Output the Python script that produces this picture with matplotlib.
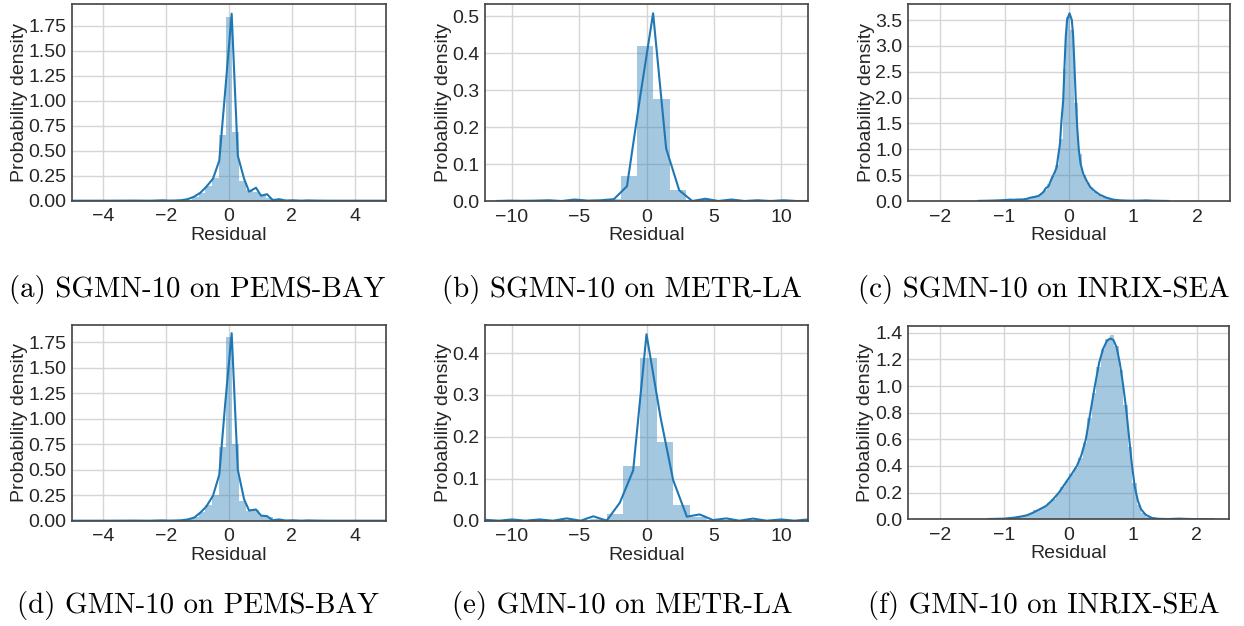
import matplotlib
matplotlib.use("Agg")
import matplotlib.pyplot as plt
from matplotlib.ticker import MultipleLocator, FormatStrFormatter
import numpy as np

# ---------------- data ----------------
# (a) SGMN-10 on PEMS-BAY
hist_a_start, hist_a_width = -1.61, 0.215
hist_a_heights = [0.004, 0.012, 0.035, 0.08, 0.15, 0.23, 0.66, 1.84, 0.69, 0.20,
                  0.11, 0.09, 0.06, 0.03, 0.012, 0.008, 0.004]
kde_a_x = [-5.2, -4.0, -3.0, -2.5, -2.3, -2.1, -1.91, -1.72, -1.52, -1.32, -1.11, -0.91,
           -0.72, -0.51, -0.31, -0.12, 0.085, 0.28, 0.48, 0.64, 0.86, 1.02, 1.21, 1.39,
           1.6, 1.8, 2.05, 2.3, 2.5, 2.8, 3.2, 4.0, 5.2]
kde_a_y = [0.0, 0.0, 0.001, 0.0, 0.002, 0.004, 0.001, 0.002, 0.005, 0.015, 0.04, 0.08,
           0.14, 0.22, 0.40, 1.10, 1.87, 0.45, 0.22, 0.09, 0.13, 0.05, 0.065, 0.006,
           0.015, 0.002, 0.004, 0.0, 0.003, 0.001, 0.0, 0.0, 0.0]

# (b) SGMN-10 on METR-LA
hist_b_start, hist_b_width = -4.37, 1.22
hist_b_heights = [0.002, 0.005, 0.068, 0.42, 0.276, 0.031, 0.004]
kde_b_x = [-11.15, -10.18, -9.21, -8.24, -7.27, -6.30, -5.33, -4.36, -3.39, -2.42, -1.45,
           -0.48, 0.49, 1.46, 2.43, 3.40, 4.37, 5.34, 6.31, 7.28, 8.25, 9.22, 10.19, 11.16,
           12.13]
kde_b_y = [0.0, 0.001, 0.0005, 0.001, 0.002, 0.0, 0.004, 0.001, 0.002, 0.005, 0.04,
           0.28, 0.508, 0.142, 0.029, 0.0, 0.006, 0.0, 0.004, 0.0, 0.002, 0.0, 0.002, 0.0,
           0.0]

# (c) SGMN-10 on INRIX-SEA
hist_c_start, hist_c_width = -1.42, 0.06
hist_c_heights = [0.005, 0.005, 0.006, 0.008, 0.010, 0.012, 0.016, 0.022, 0.028, 0.025,
                  0.030, 0.030, 0.035, 0.06, 0.08, 0.10, 0.13, 0.22, 0.33, 0.48,
                  0.70, 1.20, 2.55, 3.55, 3.30, 1.90, 0.90, 0.50, 0.35, 0.25,
                  0.18, 0.12, 0.085, 0.06, 0.035, 0.022, 0.015, 0.012, 0.009, 0.007,
                  0.006, 0.006, 0.008, 0.012, 0.010, 0.006, 0.004, 0.003, 0.003, 0.002]
kde_c_x = [-1.41, -1.2, -1.08, -0.98, -0.92, -0.86, -0.80, -0.72, -0.66, -0.60, -0.53,
           -0.47, -0.43, -0.40, -0.36, -0.32, -0.27, -0.22, -0.19, -0.17, -0.14, -0.12,
           -0.09, -0.07, -0.05, -0.03, 0.008, 0.044, 0.065, 0.085, 0.106, 0.127, 0.153,
           0.18, 0.22, 0.27, 0.33, 0.40, 0.48, 0.58, 0.69, 0.79, 0.9, 1.0, 1.1, 1.2, 1.3,
           1.54]
kde_c_y = [0.002, 0.008, 0.013, 0.02, 0.026, 0.024, 0.028, 0.03, 0.04, 0.065, 0.08,
           0.10, 0.14, 0.17, 0.25, 0.28, 0.43, 0.56, 0.66, 0.85, 1.11, 1.5,
           1.95, 2.6, 3.18, 3.5, 3.63, 3.5, 3.18, 2.6, 1.95, 1.43, 0.98,
           0.72, 0.53, 0.40, 0.27, 0.19, 0.12, 0.065, 0.026, 0.013, 0.008, 0.006, 0.008,
           0.012, 0.006, 0.001]

# (d) GMN-10 on PEMS-BAY
hist_d_start, hist_d_width = -1.61, 0.215
hist_d_heights = [0.004, 0.012, 0.04, 0.09, 0.15, 0.25, 0.72, 1.80, 0.75, 0.19,
                  0.10, 0.105, 0.05, 0.04, 0.012, 0.006, 0.004]
kde_d_x = [-5.2, -4.0, -3.0, -2.5, -2.3, -2.1, -1.91, -1.72, -1.52, -1.32, -1.11, -0.91,
           -0.72, -0.51, -0.31, -0.12, 0.085, 0.28, 0.48, 0.64, 0.86, 1.02, 1.21, 1.39,
           1.6, 1.8, 2.05, 2.3, 2.5, 2.8, 3.2, 4.0, 5.2]
kde_d_y = [0.0, 0.0, 0.001, 0.0, 0.002, 0.003, 0.001, 0.002, 0.004, 0.012, 0.03, 0.08,
           0.14, 0.245, 0.45, 1.15, 1.84, 0.50, 0.21, 0.10, 0.11, 0.05, 0.045, 0.004,
           0.012, 0.002, 0.004, 0.0, 0.003, 0.001, 0.0, 0.0, 0.0]

# (e) GMN-10 on METR-LA
hist_e_start, hist_e_width = -4.2, 1.24
hist_e_heights = [0.004, 0.017, 0.131, 0.388, 0.187, 0.037, 0.008]
kde_e_x = [-12.95, -11.95, -10.95, -10.0, -9.0, -7.95, -6.95, -5.93, -4.9, -3.95, -2.96,
           -1.98, -0.99, 0.0, 1.04, 1.98, 3.0, 3.95, 4.94, 5.93, 6.9, 7.9, 8.94, 10.0, 11.0,
           12.0, 13.0]
kde_e_y = [0.0, 0.002, 0.0, 0.003, 0.0, 0.003, 0.0, 0.0055, 0.0, 0.0105, 0.0,
           0.043, 0.12, 0.445, 0.247, 0.097, 0.0095, 0.015, 0.0015, 0.0055, 0.0, 0.005,
           0.0, 0.003, 0.0, 0.003, 0.0]

# (f) GMN-10 on INRIX-SEA
hist_f_start, hist_f_width = -1.25, 0.07
hist_f_heights = [0.002, 0.003, 0.004, 0.005, 0.008, 0.012, 0.016, 0.022, 0.03, 0.042,
                  0.07, 0.075, 0.095, 0.125, 0.155, 0.19, 0.245, 0.29, 0.34, 0.385,
                  0.46, 0.57, 0.76, 0.95, 1.14, 1.28, 1.35, 1.38, 1.30, 1.12,
                  0.86, 0.54, 0.27, 0.11, 0.045, 0.02, 0.01, 0.005, 0.003, 0.002,
                  0.002, 0.003, 0.005, 0.003, 0.002, 0.001, 0.001, 0.001, 0.0005, 0.0005]
kde_f_x = [-1.25, -1.0, -0.85, -0.75, -0.65, -0.55, -0.45, -0.35, -0.25, -0.15, -0.05,
           0.05, 0.13, 0.20, 0.27, 0.34, 0.41, 0.48, 0.54, 0.60, 0.65, 0.70, 0.75, 0.80,
           0.85, 0.90, 0.94, 0.98, 1.03, 1.08, 1.13, 1.20, 1.30, 1.40, 1.55, 1.72, 1.9, 2.25]
kde_f_y = [0.002, 0.005, 0.012, 0.02, 0.03, 0.05, 0.075, 0.10, 0.145, 0.20, 0.27,
           0.34, 0.40, 0.48, 0.60, 0.80, 1.00, 1.18, 1.28, 1.34, 1.357, 1.345, 1.29, 1.17,
           1.01, 0.82, 0.63, 0.44, 0.25, 0.14, 0.075, 0.035, 0.01, 0.004, 0.002, 0.005,
           0.002, 0.0]

captions = ["(a) SGMN-10 on PEMS-BAY", "(b) SGMN-10 on METR-LA", "(c) SGMN-10 on INRIX-SEA",
            "(d) GMN-10 on PEMS-BAY", "(e) GMN-10 on METR-LA", "(f) GMN-10 on INRIX-SEA"]
xlims = [(-5, 5), (-12, 12), (-2.5, 2.5), (-5, 5), (-12, 12), (-2.5, 2.5)]
ylims = [(0, 1.967), (0, 0.533), (0, 3.81), (0, 1.92), (0, 0.467), (0, 1.4525)]
ytick_steps = [0.25, 0.1, 0.5, 0.25, 0.1, 0.2]
ytick_fmts = ['%.2f', '%.1f', '%.1f', '%.2f', '%.1f', '%.1f']

hists = [(hist_a_start, hist_a_width, hist_a_heights), (hist_b_start, hist_b_width, hist_b_heights),
         (hist_c_start, hist_c_width, hist_c_heights), (hist_d_start, hist_d_width, hist_d_heights),
         (hist_e_start, hist_e_width, hist_e_heights), (hist_f_start, hist_f_width, hist_f_heights)]
kdes = [(kde_a_x, kde_a_y), (kde_b_x, kde_b_y), (kde_c_x, kde_c_y),
        (kde_d_x, kde_d_y), (kde_e_x, kde_e_y), (kde_f_x, kde_f_y)]

# ---------------- layout ----------------
W, H = 1244, 626
plt.rcParams['font.family'] = ['Liberation Sans', 'DejaVu Sans']
fig = plt.figure(figsize=(W / 100, H / 100), dpi=100)

# axes boxes in pixels: left, right, top, bottom
boxes = [(72, 386, 4, 200.7), (485, 808, 4, 201), (908, 1230, 4, 201),
         (72, 386, 325, 520.7), (485, 808, 325, 520.7), (908, 1229, 325.7, 519.3)]
cap_pos = [(197.5, 290), (622, 290), (1044, 290), (197.5, 605), (622, 605), (1044, 605)]

blue = '#1f77b4'
txt = '#262626'
fs = 14

for i in range(6):
    l, r, t, b = boxes[i]
    ax = fig.add_axes([l / W, 1 - b / H, (r - l) / W, (b - t) / H])
    start, width, heights = hists[i]
    edges = start + width * np.arange(len(heights) + 1)
    ax.bar(edges[:-1], heights, width=np.diff(edges), align='edge',
           color=blue, alpha=0.4, linewidth=0)
    kx, ky = kdes[i]
    ax.plot(kx, ky, color=blue, lw=1.5)
    ax.set_xlim(*xlims[i])
    ax.set_ylim(*ylims[i])
    ax.yaxis.set_major_locator(MultipleLocator(ytick_steps[i]))
    ax.yaxis.set_major_formatter(FormatStrFormatter(ytick_fmts[i]))
    ax.grid(True, color='#d6d6d6', lw=1.0)
    ax.set_axisbelow(True)
    for s in ax.spines.values():
        s.set_color('#4a4a4a')
        s.set_linewidth(1.25)
    ax.tick_params(axis='both', length=0, labelsize=fs, colors=txt)
    ax.tick_params(axis='x', pad=5.5)
    ax.tick_params(axis='y', pad=4)
    ax.set_xlabel('Residual', fontsize=fs, color=txt, labelpad=1.0)
    ax.set_ylabel('Probability density', fontsize=fs, color=txt, labelpad=0.5)
    cx, cy = cap_pos[i]
    fig.text(cx / W, 1 - cy / H, captions[i], fontfamily='cmr10', fontsize=20.8,
             ha='center', va='center', color='black')

fig.savefig('out.png', dpi=100)
